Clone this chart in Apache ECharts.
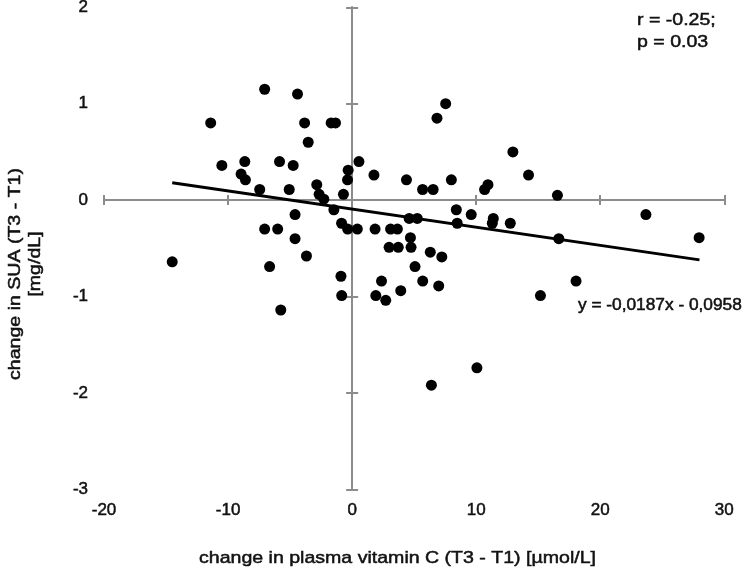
<!DOCTYPE html>
<html>
<head>
<meta charset="utf-8">
<script src="https://cdn.jsdelivr.net/npm/echarts@6/dist/echarts.min.js"></script>
<style>
  html, body { margin: 0; padding: 0; background: #fff; }
  #chart { width: 750px; height: 570px; }
</style>
</head>
<body>
<div id="chart"></div>
<script>
// change in plasma vitamin C (x) vs change in SUA (y)
const vitaminC = [
  -14.5, -11.4, -10.5, -8.95, -8.65, -8.6, -7.45, -7.05, -7.05, -6.65,
  -6.0, -5.85, -5.75, -5.07, -4.75, -4.6, -4.6, -4.4, -3.83, -3.68,
  -3.54, -2.85, -2.66, -2.28, -1.69, -1.47, -1.34, -0.9, -0.84, -0.85,
  -0.7, -0.37, -0.32, -0.36, 0.42, 0.55, 1.76, 1.85, 1.91, 2.37,
  2.71, 2.98, 3.1, 3.65, 3.72, 3.92, 4.38, 4.6, 4.7, 4.75,
  5.07, 5.25, 5.68, 5.69, 6.3, 6.39, 6.53, 6.84, 6.98, 7.23,
  7.54, 8.0, 8.4, 8.47, 9.6, 10.06, 10.68, 10.95, 11.3, 11.38,
  12.75, 12.96, 14.22, 15.18, 16.55, 16.66, 18.05, 23.68, 27.97
]
const sua = [
  -0.64, 0.80, 0.36, 0.27, 0.40, 0.21, 0.11, 1.15, -0.30, -0.69,
  -0.30, 0.40, -1.14, 0.11, 0.36, -0.15, -0.40, 1.10, 0.80, -0.58,
  0.60, 0.16, 0.06, 0.01, 0.80, -0.10, 0.80, -0.79, -0.99, -0.24,
  0.06, 0.21, 0.31, -0.30, -0.30, 0.40, 0.26, -0.30, -0.99, -0.84,
  -1.04, -0.49, -0.30, -0.30, -0.49, -0.94, 0.21, -0.19, -0.39, -0.49,
  -0.69, -0.19, 0.11, -0.84, -0.54, -1.92, 0.11, 0.85, -0.89, -0.59,
  1.00, 0.21, -0.10, -0.24, -0.15, -1.74, 0.11, 0.16, -0.24, -0.19,
  -0.24, 0.50, 0.26, -0.99, 0.05, -0.40, -0.84, -0.15, -0.39
]
// linear trend line end points
const trendX = [-14.5, 28]
const trendY = [0.18, -0.62]

const xRange = [-20, 30]
const xStep = 10
const yRange = [-3, 2]
const yStep = 1

const axisGray = '#8c8c8c'
const textColor = '#111'
const font = '"Liberation Sans", Arial, sans-serif'

const chart = echarts.init(document.getElementById('chart'), null, {renderer: 'canvas'})

// one helper for all axes: line + ticks on the zero lines, labels on the frame
function valueAxis(range, step, position, opts) {
    return {
        type: 'value',
        min: range[0],
        max: range[1],
        interval: step,
        position: position,
        splitLine: {show: false},
        axisLine: {
            show: opts.line,
            onZero: opts.line,
            lineStyle: {color: axisGray, width: 2}
        },
        axisTick: {
            show: opts.line,
            inside: false,
            length: opts.tick || 5,
            lineStyle: {color: axisGray, width: 2}
        },
        axisLabel: {
            show: !opts.line,
            margin: opts.margin || 8,
            fontSize: 17,
            fontFamily: font,
            color: textColor,
            textBorderColor: textColor,
            textBorderWidth: 0.5
        }
    }
}

// graphic text helper (slightly wide lettering like the source figure)
function label(text, x, y, extra, size) {
    return Object.assign({
        type: 'text', x: x, y: y, scaleX: 1.15,
        style: {
            text: text,
            fontSize: size || 17, fontFamily: font, fill: textColor,
            stroke: textColor, lineWidth: 0.5,
            textAlign: 'left', textVerticalAlign: 'middle'
        }
    }, extra || {})
}

const option = {
    animation: false,
    backgroundColor: '#fff',
    grid: {
        left: 104,
        right: 25.7,
        top: 7.3,
        bottom: 80.7,
        containLabel: false,
        outerBoundsMode: 'none'
    },
    xAxis: [
        valueAxis(xRange, xStep, 'bottom', {line: true, tick: 5}),
        valueAxis(xRange, xStep, 'top', {line: true, tick: 5}),
        valueAxis(xRange, xStep, 'bottom', {line: false, margin: 13})
    ],
    yAxis: [
        valueAxis(yRange, yStep, 'left', {line: true, tick: 6}),
        valueAxis(yRange, yStep, 'right', {line: true, tick: 6}),
        valueAxis(yRange, yStep, 'left', {line: false, margin: 16})
    ],
    graphic: [
        label('change in plasma vitamin C (T3 - T1) [µmol/L]', 199, 558),
        label('change in SUA (T3 - T1)', 15, 274, {rotation: Math.PI / 2}),
        label('[mg/dL]', 35, 264, {rotation: Math.PI / 2}),
        label('r = -0.25;', 637, 20),
        label('p = 0.03', 637, 42),
        label('y = -0,0187x - 0,0958', 578, 306, {scaleX: 1.08}, 16)
    ],
    series: [
        {
            type: 'line',
            xAxisIndex: 0,
            yAxisIndex: 0,
            symbol: 'none',
            lineStyle: {color: '#000', width: 3},
            data: trendX.map((x, i) => [x, trendY[i]]),
            z: 3
        },
        {
            type: 'scatter',
            xAxisIndex: 0,
            yAxisIndex: 0,
            symbolSize: 11,
            itemStyle: {color: '#000', opacity: 1},
            data: vitaminC.map((x, i) => [x, sua[i]]),
            z: 4
        }
    ]
}

// rotated labels are centred along the text direction
option.graphic[1].style.textAlign = 'center'
option.graphic[2].style.textAlign = 'center'

chart.setOption(option)
</script>
</body>
</html>
